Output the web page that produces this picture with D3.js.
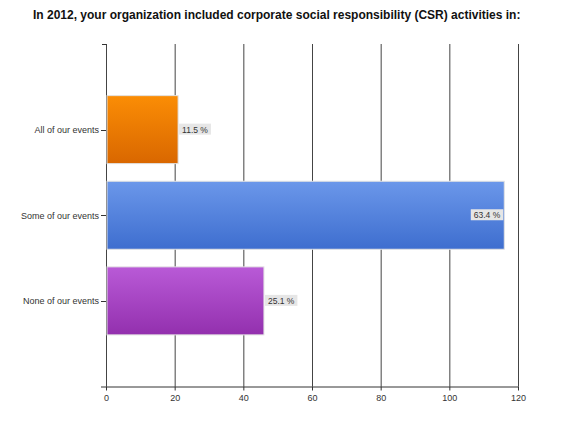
<!DOCTYPE html>
<html lang="en">
<head>
  <meta charset="UTF-8">
  <title>CSR activities 2012</title>
  <script src="https://cdn.jsdelivr.net/npm/d3@7"></script>
  <style>
    body { margin: 0; background: #fff; }
    text { font-family: "Liberation Sans", Arial, sans-serif; }
  </style>
</head>
<body>
<div id="chart"></div>
<script type="text/javascript">
  // chart data
  var categories = ["All of our events", "Some of our events", "None of our events"];
  var counts = [21, 116, 46];
  var percentLabels = ["11.5 %", "63.4 %", "25.1 %"];
  var xTicks = [0, 20, 40, 60, 80, 100, 120];
  var colorsTop = ["#fb8d05", "#6b97ea", "#b95ad7"];
  var colorsBottom = ["#d96700", "#3e6ecf", "#9330ae"];

  var width = 565, height = 423;
  var plotLeft = 106, plotRight = 518, plotTop = 44, plotBottom = 386.5;

  var svg = d3.select("#chart").append("svg")
    .attr("width", width)
    .attr("height", height);

  var x = d3.scaleLinear().domain([0, 120]).range([plotLeft, plotRight]);
  // categories sit at positions 1..3 of a 0..4 range
  var y = d3.scaleLinear().domain([0, 4]).range([plotTop, plotBottom]);
  var barH = 68;

  var defs = svg.append("defs");
  categories.forEach(function(c, i) {
    var g = defs.append("linearGradient")
      .attr("id", "grad" + i)
      .attr("x1", 0).attr("y1", 0).attr("x2", 0).attr("y2", 1);
    g.append("stop").attr("offset", "0%").attr("stop-color", colorsTop[i]);
    g.append("stop").attr("offset", "100%").attr("stop-color", colorsBottom[i]);
  });

  // title
  svg.append("text")
    .attr("x", 33)
    .attr("y", 19)
    .attr("font-size", "12px")
    .attr("font-weight", "bold")
    .attr("fill", "#111")
    .text("In 2012, your organization included corporate social responsibility (CSR) activities in:");

  // vertical grid lines
  svg.append("g").selectAll("line")
    .data(xTicks)
    .enter().append("line")
    .attr("x1", function(d) { return x(d) + 0.5; })
    .attr("x2", function(d) { return x(d) + 0.5; })
    .attr("y1", plotTop)
    .attr("y2", plotBottom)
    .attr("stroke", "#444")
    .attr("stroke-width", 1);

  // bars
  svg.append("g").selectAll("rect")
    .data(counts)
    .enter().append("rect")
    .attr("x", x(0) + 1)
    .attr("y", function(d, i) { return y(i + 1) - barH / 2; })
    .attr("width", function(d) { return x(d) - x(0) - 1; })
    .attr("height", barH)
    .attr("fill", function(d, i) { return "url(#grad" + i + ")"; })
    .attr("stroke", "#e2e2e2")
    .attr("stroke-width", 1);

  // value labels
  var labels = svg.append("g").selectAll("g")
    .data(counts)
    .enter().append("g");

  labels.each(function(d, i) {
    var g = d3.select(this);
    var t = g.append("text")
      .attr("font-size", "8.5px")
      .attr("fill", "#333")
      .attr("y", y(i + 1) + 3)
      .text(percentLabels[i]);
    var w = t.node().getComputedTextLength() + 6;
    var bx = x(d) - x(0) > 300 ? x(d) - w - 1 : x(d) + 1;
    g.insert("rect", "text")
      .attr("x", bx)
      .attr("y", y(i + 1) - 6)
      .attr("width", w)
      .attr("height", 11)
      .attr("fill", "#e6e6e6");
    t.attr("x", bx + 3);
  });

  // x axis
  var xAxis = d3.axisBottom(x).tickValues(xTicks).tickSize(4).tickSizeOuter(0);
  var gx = svg.append("g")
    .attr("transform", "translate(0," + plotBottom + ")")
    .attr("font-family", "Liberation Sans, Arial, sans-serif")
    .call(xAxis);
  gx.select(".domain").remove();
  gx.append("line")
    .attr("x1", plotLeft - 5).attr("x2", plotRight + 0.5)
    .attr("y1", 0.5).attr("y2", 0.5)
    .attr("stroke", "#333");
  gx.selectAll(".tick line").attr("stroke", "#333");
  gx.selectAll(".tick text")
    .attr("font-size", "9px")
    .attr("fill", "#333")
    .attr("dy", "0.85em");

  // y axis labels and ticks
  var gy = svg.append("g");
  gy.append("line")
    .attr("x1", plotLeft - 4).attr("x2", plotLeft + 0.5)
    .attr("y1", plotTop + 0.5).attr("y2", plotTop + 0.5)
    .attr("stroke", "#333");
  gy.selectAll("line.tick")
    .data(categories)
    .enter().append("line")
    .attr("class", "tick")
    .attr("x1", plotLeft - 5).attr("x2", plotLeft)
    .attr("y1", function(d, i) { return Math.round(y(i + 1)) + 0.5; })
    .attr("y2", function(d, i) { return Math.round(y(i + 1)) + 0.5; })
    .attr("stroke", "#333");
  gy.selectAll("text")
    .data(categories)
    .enter().append("text")
    .attr("x", plotLeft - 7)
    .attr("y", function(d, i) { return y(i + 1) + 3.5; })
    .attr("text-anchor", "end")
    .attr("font-size", "9px")
    .attr("fill", "#333")
    .text(function(d) { return d; });
</script>
</body>
</html>
